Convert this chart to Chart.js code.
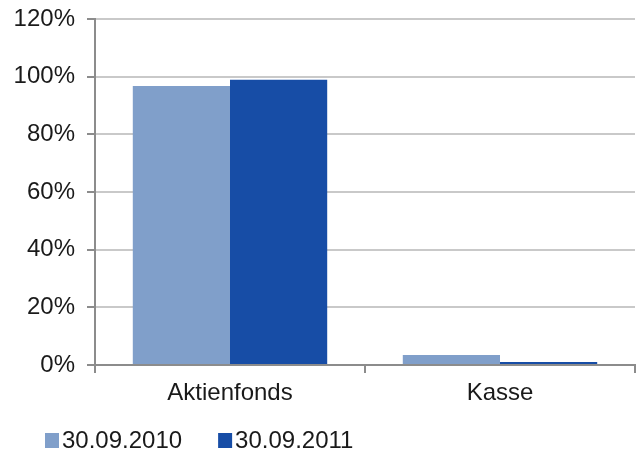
<!DOCTYPE html>
<html>
<head>
<meta charset="utf-8">
<script src="https://cdn.jsdelivr.net/npm/chart.js@4.4.0/dist/chart.umd.min.js"></script>
<style>
  html, body { margin: 0; padding: 0; background: #fff; }
  #wrap { width: 641px; height: 452px; }
</style>
</head>
<body>
<div id="wrap"><canvas id="chart" width="641" height="452"></canvas></div>
<script>
// Daten aus der Vorlage (Anteil in %)
const categories = ["Aktienfonds", "Kasse"];
const seriesLabels = ["30.09.2010", "30.09.2011"];
const values2010 = [96.8, 3.5];
const values2011 = [98.9, 1.0];
const yTicks = [0, 20, 40, 60, 80, 100, 120];

const colors = ["#809FCA", "#174DA6"];
const fontFamily = "'Liberation Sans', Arial, sans-serif";
const fontSize = 24;
const axisGray = "#8c8c8c";
const gridGray = "#c9c9c9";

// eigene Legende unten links (Box direkt vor dem Text)
const bottomLegend = {
  id: "bottomLegend",
  afterDraw(chart) {
    const ctx = chart.ctx;
    ctx.save();
    ctx.font = fontSize + "px " + fontFamily;
    ctx.textBaseline = "middle";
    let x = 45;
    const y = 440.5;
    chart.data.datasets.forEach((ds) => {
      ctx.fillStyle = ds.backgroundColor;
      ctx.fillRect(x, y - 7.5, 14, 15);
      ctx.fillStyle = "#1a1a1a";
      ctx.fillText(ds.label, x + 17, y + 1);
      x += 17 + ctx.measureText(ds.label).width + 36;
    });
    ctx.restore();
  },
};

new Chart(document.getElementById("chart"), {
  type: "bar",
  data: {
    labels: categories,
    datasets: [
      { label: seriesLabels[0], data: values2010, backgroundColor: colors[0] },
      { label: seriesLabels[1], data: values2011, backgroundColor: colors[1] },
    ],
  },
  options: {
    responsive: false,
    animation: false,
    devicePixelRatio: 1,
    layout: { padding: { top: 19, right: 6, bottom: 0, left: 0 } },
    datasets: {
      bar: { categoryPercentage: 0.72, barPercentage: 1.0, borderWidth: 0 },
    },
    plugins: {
      legend: { display: false },
      tooltip: { enabled: false },
    },
    scales: {
      x: {
        afterFit: (s) => { s.height = 87; },
        grid: {
          offset: true,
          drawOnChartArea: false,
          drawTicks: true,
          tickLength: 8,
          tickColor: axisGray,
          lineWidth: 2,
        },
        border: { color: axisGray, width: 2 },
        ticks: {
          color: "#1a1a1a",
          padding: 6,
          font: { family: fontFamily, size: fontSize },
        },
      },
      y: {
        min: 0,
        max: 120,
        afterFit: (s) => {
          s.width = 95;
          s.paddingTop = 0;
          s.paddingBottom = 0;
        },
        afterBuildTicks: (s) => { s.ticks = yTicks.map((v) => ({ value: v })); },
        grid: {
          color: gridGray,
          lineWidth: 2,
          tickLength: 8,
          tickColor: axisGray,
        },
        border: { color: axisGray, width: 2 },
        ticks: {
          color: "#1a1a1a",
          padding: 12,
          font: { family: fontFamily, size: fontSize },
          callback: (v) => v + "%",
        },
      },
    },
  },
  plugins: [bottomLegend],
});
</script>
</body>
</html>
